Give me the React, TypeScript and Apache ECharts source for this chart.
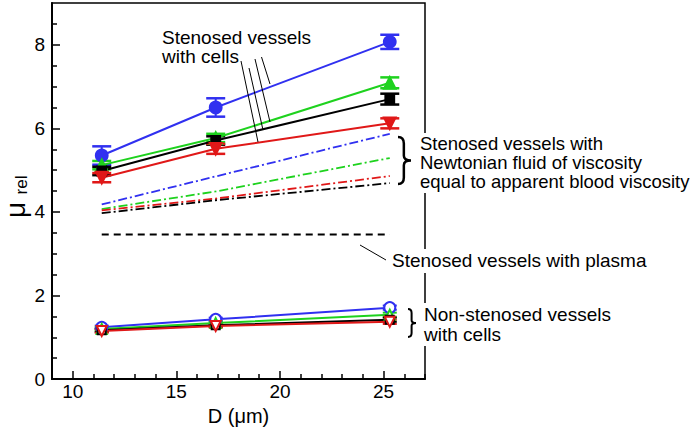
import React, { useEffect, useRef } from "react";
import * as echarts from "echarts";

// ---- data ----
const xD = [11.4, 16.9, 25.3];

// stenosed vessels with cells (mean, error)
const blueS = [5.35, 6.5, 8.07];
const blueSErr = [0.22, 0.22, 0.17];
const greenS = [5.12, 5.77, 7.09];
const greenSErr = [0.1, 0.1, 0.13];
const blackS = [4.98, 5.71, 6.7];
const blackSErr = [0.1, 0.1, 0.13];
const redS = [4.82, 5.51, 6.12];
const redSErr = [0.11, 0.12, 0.12];

// stenosed vessels with Newtonian fluid
const blueN = [4.18, 4.85, 5.87];
const greenN = [4.07, 4.49, 5.29];
const redN = [4.04, 4.32, 4.86];
const blackN = [3.97, 4.28, 4.69];

// stenosed vessels with plasma
const plasma = [3.46, 3.46, 3.46];

// non-stenosed vessels with cells
const blueNS = [1.24, 1.43, 1.71];
const greenNS = [1.2, 1.34, 1.54];
const blackNS = [1.17, 1.29, 1.42];
const redNS = [1.15, 1.27, 1.37];
const nsErr = [0.04, 0.04, 0.05];

const xMajor = [10, 15, 20, 25];
const xMinor = [9, 11, 12, 13, 14, 16, 17, 18, 19, 21, 22, 23, 24, 26, 27];
const yMajor = [0, 2, 4, 6, 8];
const yMinor = [0.5, 1, 1.5, 2.5, 3, 3.5, 4.5, 5, 5.5, 6.5, 7, 7.5, 8.5];

const BLUE = "#3030f0";
const GREEN = "#1ed21e";
const BLACK = "#000000";
const RED = "#e01818";
const FONT = "'Liberation Sans', Arial, sans-serif";

function bracePath(w: number, h: number) {
  const s = w * 0.45;
  return (
    `M0,0 Q${s},0 ${s},${h * 0.14} L${s},${h * 0.4} Q${s},${h * 0.5} ${w},${h * 0.5} ` +
    `Q${s},${h * 0.5} ${s},${h * 0.6} L${s},${h * 0.86} Q${s},${h} 0,${h}`
  );
}

let registered = false;
function registerShapes() {
  if (registered) return;
  registered = true;
  echarts.graphic.registerShape("brace1", echarts.graphic.extendPath(bracePath(13, 47), {}) as any);
  echarts.graphic.registerShape("brace2", echarts.graphic.extendPath(bracePath(8, 28), {}) as any);
}

function errSeries(vals: number[], errs: number[], color: string, hw: number, lw: number) {
  return {
    type: "custom",
    xAxisIndex: 0,
    yAxisIndex: 0,
    data: xD.map((x, i) => [x, vals[i] - errs[i], vals[i] + errs[i]]),
    encode: { x: 0, y: [1, 2] },
    z: 3,
    renderItem: (params: any, api: any) => {
      const x = api.value(0);
      const p1 = api.coord([x, api.value(1)]);
      const p2 = api.coord([x, api.value(2)]);
      const st = { stroke: color, lineWidth: lw };
      return {
        type: "group",
        children: [
          { type: "line", shape: { x1: p1[0], y1: p1[1], x2: p2[0], y2: p2[1] }, style: { stroke: color, lineWidth: 2 } },
          { type: "line", shape: { x1: p1[0] - hw, y1: p1[1], x2: p1[0] + hw, y2: p1[1] }, style: st },
          { type: "line", shape: { x1: p2[0] - hw, y1: p2[1], x2: p2[0] + hw, y2: p2[1] }, style: st },
        ],
      };
    },
  };
}

function lineSeries(vals: number[], color: string, symbol: string, size: number, rotate = 0, lineType: any = "solid", width = 2) {
  return {
    type: "line",
    xAxisIndex: 0,
    yAxisIndex: 0,
    data: xD.map((x, i) => [x, vals[i]]),
    symbol,
    symbolSize: size,
    symbolRotate: rotate,
    showSymbol: symbol !== "none",
    z: 4,
    lineStyle: { color, width, type: lineType },
    itemStyle: { color, borderColor: color, borderWidth: 1.8 },
  };
}

const DASHDOT = [9, 3, 2, 3];

export default function App() {
  const ref = useRef<HTMLDivElement>(null);
  useEffect(() => {
    if (!ref.current) return;
    registerShapes();
    const chart = echarts.init(ref.current, null, { renderer: "svg" });
    const tickLine = { color: "#000", width: 1.5 };
    const labelStyle = { color: "#000", fontSize: 19, fontFamily: FONT };
    const option: any = {
      animation: false,
      grid: { left: 52, right: 275, top: 3, bottom: 44, show: true, borderColor: "#000", borderWidth: 1.5 },
      xAxis: [
        {
          type: "value", min: 9, max: 27, position: "bottom",
          axisLine: { onZero: false, lineStyle: { color: "#000", width: 2 } },
          axisTick: { inside: true, length: 8, customValues: xMajor, lineStyle: tickLine },
          axisLabel: { ...labelStyle, customValues: xMajor, margin: 3 },
          splitLine: { show: false },
          name: "D (μm)", nameLocation: "middle", nameGap: 23,
          nameTextStyle: { color: "#000", fontSize: 20, fontFamily: FONT },
        },
        {
          type: "value", min: 9, max: 27, position: "bottom",
          axisLine: { show: false, onZero: false },
          axisTick: { inside: true, length: 5, customValues: xMinor, lineStyle: tickLine },
          axisLabel: { show: false },
          splitLine: { show: false },
        },
      ],
      yAxis: [
        {
          type: "value", min: 0, max: 9, position: "left",
          axisLine: { show: true, onZero: false, lineStyle: { color: "#000", width: 2 } },
          axisTick: { show: true, inside: true, length: 8, customValues: yMajor, lineStyle: tickLine },
          axisLabel: { ...labelStyle, customValues: yMajor, margin: 7 },
          splitLine: { show: false },
        },
        {
          type: "value", min: 0, max: 9, position: "left",
          axisLine: { show: false, onZero: false },
          axisTick: { show: true, inside: true, length: 5, customValues: yMinor, lineStyle: tickLine },
          axisLabel: { show: false },
          splitLine: { show: false },
        },
      ],
      series: [
        // Newtonian
        lineSeries(blueN, BLUE, "none", 0, 0, DASHDOT, 1.8),
        lineSeries(greenN, GREEN, "none", 0, 0, DASHDOT, 1.8),
        lineSeries(redN, RED, "none", 0, 0, DASHDOT, 1.8),
        lineSeries(blackN, BLACK, "none", 0, 0, DASHDOT, 1.8),
        // plasma
        lineSeries(plasma, BLACK, "none", 0, 0, [7, 5], 1.8),
        // stenosed with cells
        errSeries(blueS, blueSErr, BLUE, 9.5, 2.5),
        lineSeries(blueS, BLUE, "circle", 12),
        errSeries(greenS, greenSErr, GREEN, 9.5, 2.5),
        lineSeries(greenS, GREEN, "triangle", 12),
        errSeries(blackS, blackSErr, BLACK, 9.5, 2.5),
        lineSeries(blackS, BLACK, "rect", 9),
        errSeries(redS, redSErr, RED, 9.5, 2.5),
        lineSeries(redS, RED, "triangle", 12, 180),
        // non-stenosed
        errSeries(blueNS, nsErr, BLUE, 7, 2),
        lineSeries(blueNS, BLUE, "emptyCircle", 11),
        errSeries(greenNS, nsErr, GREEN, 7, 2),
        lineSeries(greenNS, GREEN, "emptyTriangle", 10),
        errSeries(blackNS, nsErr, BLACK, 7, 2),
        lineSeries(blackNS, BLACK, "emptyRect", 8),
        errSeries(redNS, nsErr, RED, 7, 2),
        lineSeries(redNS, RED, "emptyTriangle", 10, 180),
      ],
      graphic: [
        {
          type: "group", x: 26, y: 198, rotation: Math.PI / 2, z: 10,
          children: [
            { type: "text", x: -12, y: -11, style: { text: "μ", fontSize: 28, lineHeight: 24, fontFamily: FONT, fill: "#000", align: "center", verticalAlign: "middle" } },
            { type: "text", x: 13, y: -5, style: { text: "rel", fontSize: 17, lineHeight: 17, fontFamily: FONT, fill: "#000", align: "center", verticalAlign: "middle" } },
          ],
        },
        {
          type: "text", x: 162, y: 28, z: 10,
          style: { text: "Stenosed vessels\nwith cells", fontSize: 19, lineHeight: 19, fontFamily: FONT, fill: "#000", align: "left", verticalAlign: "top" },
        },
        { type: "line", z: 10, shape: { x1: 241, y1: 61, x2: 258, y2: 142 }, style: { stroke: "#000", lineWidth: 1 } },
        { type: "line", z: 10, shape: { x1: 249, y1: 68, x2: 263, y2: 130 }, style: { stroke: "#000", lineWidth: 1 } },
        { type: "line", z: 10, shape: { x1: 255, y1: 59, x2: 270, y2: 122 }, style: { stroke: "#000", lineWidth: 1 } },
        { type: "line", z: 10, shape: { x1: 261.5, y1: 57, x2: 270, y2: 84 }, style: { stroke: "#000", lineWidth: 1 } },
        {
          type: "text", x: 419, y: 133, z: 10,
          style: {
            text: "Stenosed vessels with\nNewtonian fluid of viscosity\nequal to apparent blood viscosity",
            fontSize: 18.5, lineHeight: 19, fontFamily: FONT, fill: "#000", align: "left", verticalAlign: "top",
            backgroundColor: "#fff", padding: [1, 2, 2, 1],
          },
        },
        { type: "brace1", x: 398, y: 137, z: 10, style: { stroke: "#000", fill: null, lineWidth: 2.5 } },
        { type: "line", z: 10, shape: { x1: 360, y1: 245, x2: 386, y2: 260 }, style: { stroke: "#000", lineWidth: 1 } },
        {
          type: "text", x: 391, y: 249, z: 10,
          style: {
            text: "Stenosed vessels with plasma", fontSize: 19, lineHeight: 19, fontFamily: FONT, fill: "#000",
            align: "left", verticalAlign: "top", backgroundColor: "#fff", padding: [2, 2, 3, 1],
          },
        },
        { type: "brace2", x: 408, y: 309, z: 10, style: { stroke: "#000", fill: null, lineWidth: 2 } },
        {
          type: "text", x: 423, y: 303, z: 10,
          style: {
            text: "Non-stenosed vessels\nwith cells", fontSize: 19, lineHeight: 19.7, fontFamily: FONT, fill: "#000",
            align: "left", verticalAlign: "top", backgroundColor: "#fff", padding: [1.5, 2, 2, 1],
          },
        },
      ],
    };
    chart.setOption(option);
    return () => chart.dispose();
  }, []);
  return <div ref={ref} style={{ width: 700, height: 431, position: "absolute", left: 0, top: 0 }} />;
}
